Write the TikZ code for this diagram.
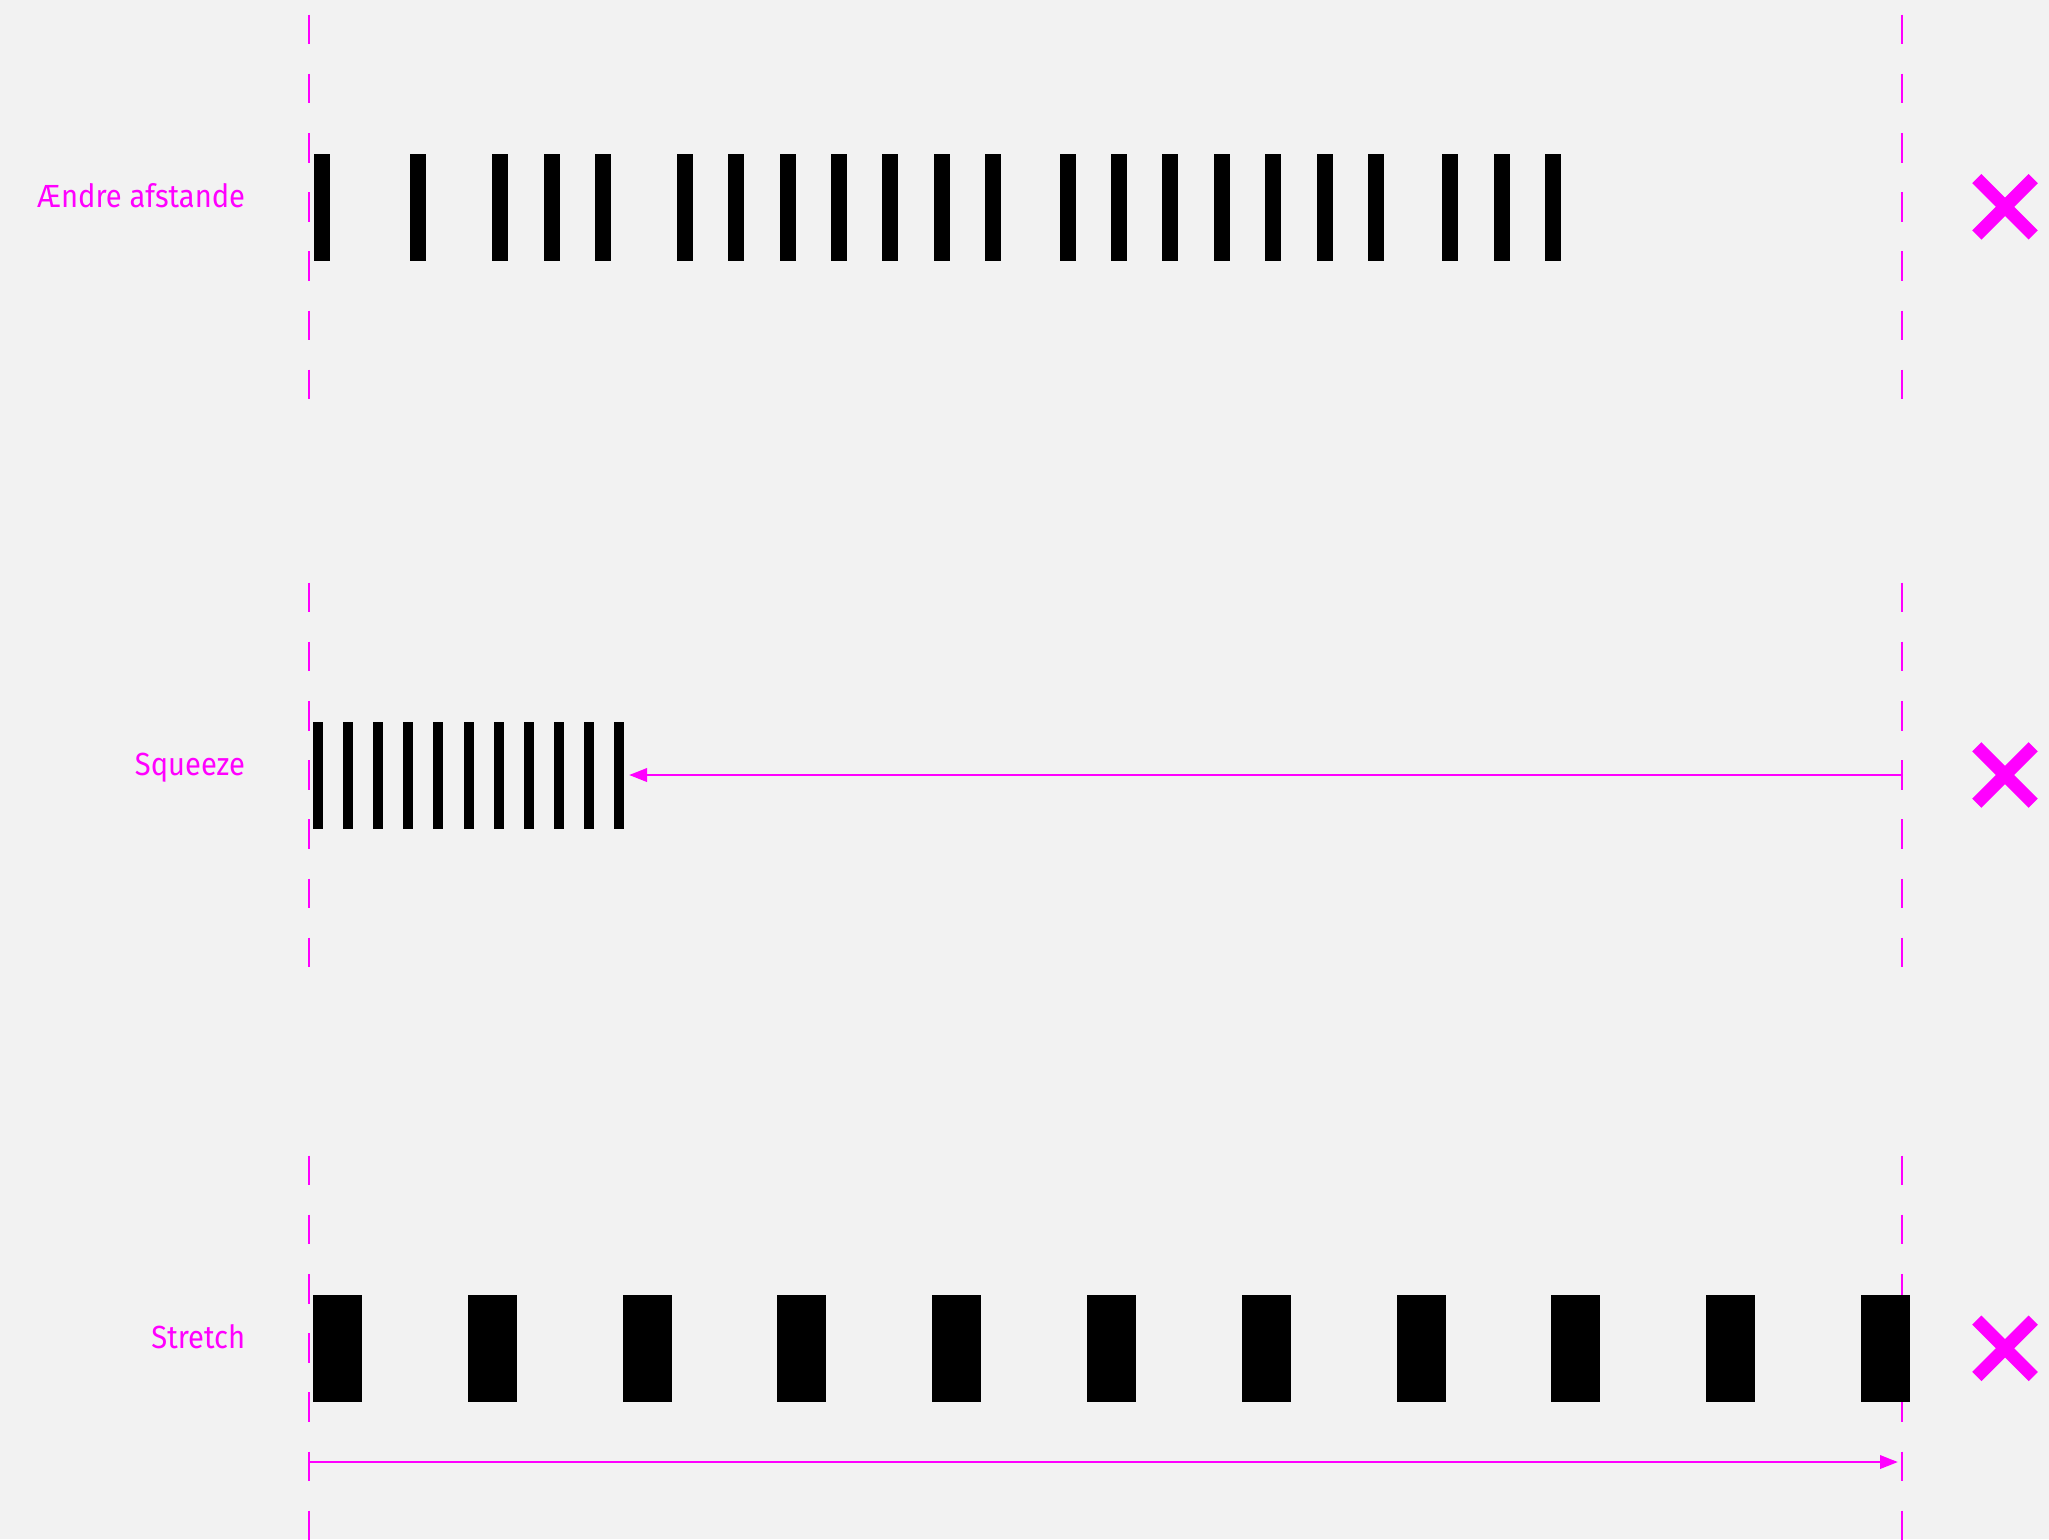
\documentclass[tikz,border=0pt]{standalone}
\usepackage{fontspec}
\setmainfont{Fira Sans}[FakeStretch=0.91]
\usetikzlibrary{arrows.meta}
\definecolor{pagebg}{HTML}{F2F2F2}
\definecolor{marker}{HTML}{FF00FF}
\begin{document}
\begin{tikzpicture}[x=0.5pt,y=-0.5pt, font=\fontsize{16}{19}\selectfont,
  guide/.style={draw=marker,line width=1.45pt,dash pattern=on 14.8pt off 14.8pt},
  rowlabel/.style={anchor=base east,text=marker,inner sep=0pt},
  cross/.style={draw=marker,line width=6.5pt},
  moveline/.style={draw=marker,line width=1.45pt,-{Triangle[length=9pt,width=6.6pt]}}]
\fill[pagebg] (0,0) rectangle (2049,1539);
\useasboundingbox (0,0) rectangle (2049,1539);

% Dashed guides: left start line and right target line, one pair per row
\foreach \c in {207.5,775.5,1348.5} {
  \draw[guide] (309,\c-193) -- (309,\c+193);
  \draw[guide] (1902,\c-193) -- (1902,\c+193);
}

% Row labels
\node[rowlabel] (lbl-gap) at (245.5,207.5) {Ændre afstande};
\node[rowlabel] (lbl-squeeze) at (245.5,775.5) {Squeeze};
\node[rowlabel] (lbl-stretch) at (245.5,1348.5) {Stretch};

% Row 1: uneven spacing
\foreach \x in {314,410,492,544,595,677,728,780,831,882,934,985,1060,1111,1162,1214,1265,1317,1368,1442,1494,1545} {\fill[black] (\x,154) rectangle +(16,107);}

% Row 2: squeezed bars and arrow
\foreach \i in {0,...,10} {\fill[black] ({313+30.1*\i},722) rectangle +(10,107);}
\coordinate (squeeze-from) at (1902,775);
\coordinate (squeeze-to) at (629,775);
\draw[moveline] (squeeze-from) -- (squeeze-to);

% Row 3: stretched bars and arrow
\foreach \i in {0,...,10} {\fill[black] ({313+154.8*\i},1295) rectangle +(49,107);}
\coordinate (stretch-from) at (309,1462);
\coordinate (stretch-to) at (1898,1462);
\draw[moveline] (stretch-from) -- (stretch-to);

% Crosses at the right
\foreach \c in {206.8,775,1348.3} {
  \draw[cross] (2005-28.2,\c-28.2) -- (2005+28.2,\c+28.2);
  \draw[cross] (2005-28.2,\c+28.2) -- (2005+28.2,\c-28.2);
}
\end{tikzpicture}
\end{document}
